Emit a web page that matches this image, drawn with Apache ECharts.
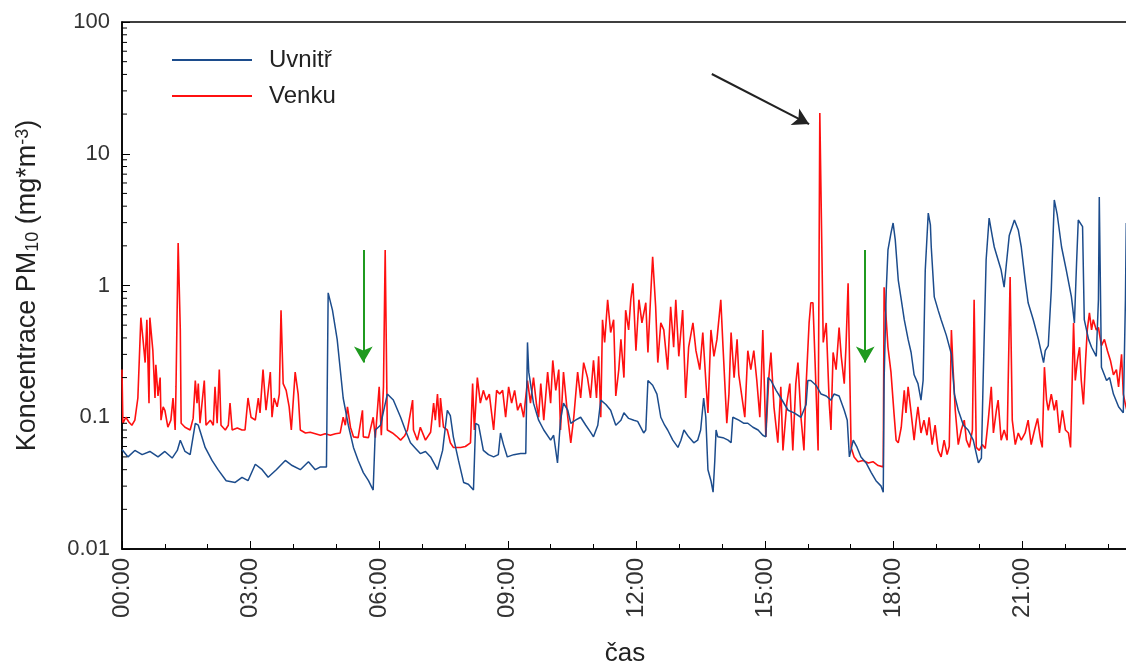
<!DOCTYPE html>
<html><head><meta charset="utf-8">
<script src="https://cdn.jsdelivr.net/npm/echarts@6/dist/echarts.min.js"></script>
<style>html,body{margin:0;padding:0;background:#fff}#c{width:1126px;height:664px}</style>
</head><body><div id="c"></div>
<script>
const seriesNames = ['Uvnitř', 'Venku'];
const xTickLabels = ['00:00','03:00','06:00','09:00','12:00','15:00','18:00','21:00'];
const yTickLabels = ['0.01','0.1','1','10','100'];
const yMinorTicks = [0.02,0.03,0.04,0.05,0.06,0.07,0.08,0.09,0.2,0.3,0.4,0.5,0.6,0.7,0.8,0.9,2,3,4,5,6,7,8,9,20,30,40,50,60,70,80,90];

// Uvnitř (indoor), hours since midnight and concentration
const uHours = [0,0.14,0.30,0.47,0.65,0.84,1.00,1.17,1.29,1.36,1.47,1.59,1.71,1.78,1.94,2.10,2.24,2.43,2.64,2.80,2.94,3.11,3.27,3.41,3.60,3.81,3.97,4.16,4.35,4.51,4.63,4.77,4.81,4.91,5.02,5.16,5.28,5.40,5.51,5.63,5.75,5.86,5.89,5.91,6.03,6.19,6.33,6.50,6.61,6.73,6.85,6.96,7.08,7.20,7.36,7.48,7.59,7.66,7.73,7.85,7.97,8.08,8.20,8.25,8.32,8.43,8.55,8.67,8.78,8.83,8.90,8.99,9.14,9.30,9.42,9.46,9.49,9.60,9.72,9.84,10.00,10.07,10.16,10.23,10.30,10.40,10.47,10.58,10.70,10.82,10.93,11.00,11.10,11.17,11.29,11.40,11.52,11.64,11.71,11.82,11.94,12.03,12.17,12.22,12.27,12.38,12.48,12.57,12.66,12.73,12.85,12.97,13.04,13.11,13.22,13.34,13.43,13.50,13.57,13.62,13.67,13.74,13.79,13.83,13.86,13.90,14.02,14.14,14.21,14.25,14.39,14.51,14.60,14.72,14.84,14.95,15.02,15.07,15.14,15.26,15.37,15.54,15.68,15.84,15.96,16.00,16.07,16.19,16.31,16.43,16.54,16.61,16.73,16.85,16.92,16.97,17.06,17.15,17.24,17.36,17.48,17.59,17.71,17.76,17.78,17.83,17.87,17.94,17.99,18.04,18.11,18.18,18.25,18.34,18.41,18.48,18.57,18.64,18.69,18.74,18.81,18.86,18.88,18.95,19.04,19.11,19.23,19.35,19.42,19.51,19.63,19.74,19.86,19.98,20.05,20.09,20.16,20.23,20.30,20.35,20.44,20.51,20.58,20.63,20.70,20.82,20.91,20.98,21.07,21.14,21.26,21.38,21.50,21.54,21.61,21.68,21.75,21.82,21.92,22.03,22.15,22.22,22.27,22.31,22.41,22.45,22.55,22.62,22.73,22.78,22.80,22.85,22.97,23.04,23.13,23.25,23.36,23.41,23.43];
const uValues = [0.057,0.050,0.056,0.052,0.055,0.050,0.055,0.049,0.056,0.067,0.055,0.052,0.090,0.087,0.059,0.047,0.040,0.033,0.032,0.035,0.033,0.044,0.040,0.035,0.040,0.047,0.043,0.040,0.046,0.040,0.042,0.042,0.88,0.65,0.39,0.14,0.087,0.059,0.047,0.038,0.033,0.028,0.028,0.080,0.087,0.150,0.135,0.100,0.080,0.064,0.058,0.053,0.055,0.050,0.040,0.056,0.113,0.103,0.071,0.047,0.032,0.031,0.028,0.090,0.087,0.056,0.052,0.050,0.052,0.076,0.062,0.050,0.052,0.053,0.053,0.37,0.22,0.128,0.095,0.080,0.067,0.073,0.045,0.095,0.128,0.113,0.090,0.095,0.100,0.087,0.077,0.071,0.087,0.135,0.125,0.113,0.087,0.095,0.108,0.098,0.095,0.093,0.076,0.080,0.190,0.175,0.150,0.100,0.087,0.080,0.067,0.059,0.067,0.080,0.071,0.064,0.067,0.080,0.140,0.100,0.040,0.033,0.027,0.047,0.080,0.071,0.070,0.067,0.064,0.100,0.095,0.090,0.090,0.084,0.080,0.073,0.071,0.200,0.190,0.160,0.140,0.113,0.108,0.100,0.125,0.190,0.190,0.175,0.150,0.145,0.135,0.150,0.145,0.113,0.095,0.050,0.067,0.059,0.050,0.045,0.038,0.033,0.030,0.027,0.190,0.92,1.86,2.5,2.98,2.22,1.10,0.78,0.55,0.39,0.31,0.21,0.18,0.135,0.19,1.31,3.55,2.88,1.96,0.82,0.65,0.55,0.42,0.30,0.15,0.113,0.087,0.080,0.067,0.045,0.049,0.19,1.56,3.25,2.4,1.96,1.56,1.31,0.97,1.43,2.4,3.14,2.64,1.96,1.10,0.74,0.55,0.39,0.26,0.32,0.35,0.92,4.46,3.43,1.96,1.31,0.82,0.52,1.48,3.14,2.8,0.55,0.39,0.34,0.29,0.78,4.7,0.24,0.19,0.20,0.15,0.12,0.108,0.78,2.98];

// Venku (outdoor)
const vHours = [0,0.02,0.09,0.16,0.23,0.30,0.37,0.44,0.49,0.54,0.58,0.63,0.65,0.72,0.77,0.79,0.84,0.89,0.91,0.96,1.00,1.07,1.14,1.19,1.24,1.26,1.31,1.36,1.38,1.47,1.59,1.66,1.71,1.75,1.78,1.82,1.92,1.96,2.06,2.13,2.17,2.22,2.27,2.31,2.41,2.48,2.52,2.57,2.69,2.80,2.87,2.94,3.01,3.11,3.18,3.22,3.29,3.36,3.46,3.50,3.55,3.62,3.67,3.71,3.76,3.83,3.90,3.95,4.04,4.11,4.16,4.28,4.39,4.51,4.63,4.74,4.86,4.98,5.09,5.16,5.21,5.26,5.33,5.40,5.51,5.61,5.63,5.75,5.86,5.91,6.00,6.05,6.10,6.14,6.19,6.31,6.40,6.50,6.59,6.66,6.78,6.80,6.89,6.96,7.08,7.20,7.27,7.31,7.36,7.41,7.43,7.50,7.59,7.66,7.73,7.90,8.01,8.13,8.18,8.22,8.29,8.36,8.43,8.50,8.57,8.67,8.74,8.81,8.88,8.95,9.02,9.09,9.16,9.23,9.30,9.37,9.46,9.53,9.60,9.67,9.72,9.77,9.84,9.93,10.00,10.05,10.12,10.19,10.23,10.30,10.40,10.47,10.54,10.63,10.70,10.77,10.86,10.93,11.00,11.07,11.12,11.17,11.21,11.26,11.33,11.40,11.47,11.52,11.59,11.64,11.71,11.75,11.82,11.87,11.92,11.99,12.06,12.13,12.22,12.27,12.34,12.38,12.45,12.50,12.57,12.64,12.73,12.80,12.87,12.92,12.99,13.08,13.15,13.22,13.32,13.39,13.48,13.55,13.62,13.67,13.74,13.81,13.88,13.97,14.02,14.11,14.16,14.21,14.28,14.35,14.39,14.53,14.60,14.67,14.74,14.81,14.88,14.91,14.95,15.02,15.09,15.14,15.21,15.30,15.37,15.42,15.51,15.58,15.65,15.72,15.77,15.84,15.91,15.96,16.03,16.07,16.12,16.17,16.24,16.28,16.36,16.43,16.50,16.54,16.59,16.66,16.73,16.78,16.85,16.89,16.94,16.99,17.01,17.08,17.17,17.29,17.41,17.52,17.64,17.76,17.78,17.83,17.87,17.94,18.01,18.06,18.11,18.18,18.25,18.29,18.34,18.41,18.48,18.53,18.57,18.64,18.71,18.78,18.83,18.90,18.97,19.04,19.11,19.18,19.25,19.30,19.35,19.39,19.44,19.51,19.58,19.65,19.70,19.77,19.84,19.88,19.93,20.00,20.07,20.14,20.21,20.28,20.33,20.40,20.44,20.51,20.58,20.65,20.72,20.77,20.84,20.91,20.98,21.07,21.14,21.21,21.29,21.36,21.43,21.47,21.52,21.57,21.61,21.68,21.75,21.80,21.87,21.94,22.01,22.08,22.13,22.20,22.24,22.29,22.34,22.38,22.43,22.48,22.52,22.57,22.62,22.66,22.73,22.78,22.85,22.92,22.99,23.06,23.13,23.20,23.25,23.32,23.36,23.41,23.46];
const vValues = [0.23,0.090,0.100,0.092,0.087,0.095,0.14,0.57,0.39,0.26,0.55,0.128,0.57,0.32,0.14,0.25,0.145,0.20,0.095,0.12,0.113,0.084,0.095,0.14,0.080,0.17,2.10,0.46,0.090,0.084,0.080,0.098,0.19,0.128,0.18,0.090,0.19,0.087,0.095,0.087,0.17,0.090,0.23,0.087,0.080,0.087,0.128,0.080,0.083,0.080,0.080,0.14,0.100,0.095,0.14,0.108,0.23,0.113,0.22,0.100,0.14,0.12,0.15,0.65,0.18,0.16,0.12,0.080,0.22,0.15,0.080,0.076,0.077,0.075,0.073,0.075,0.073,0.075,0.076,0.100,0.087,0.12,0.084,0.071,0.070,0.113,0.071,0.070,0.100,0.070,0.17,0.073,0.17,1.86,0.080,0.076,0.072,0.067,0.072,0.080,0.135,0.080,0.067,0.084,0.067,0.077,0.128,0.095,0.15,0.084,0.14,0.084,0.080,0.064,0.059,0.059,0.060,0.064,0.18,0.080,0.20,0.128,0.16,0.135,0.15,0.080,0.16,0.15,0.16,0.100,0.17,0.128,0.16,0.113,0.128,0.100,0.19,0.128,0.20,0.125,0.100,0.18,0.095,0.22,0.128,0.27,0.16,0.23,0.080,0.22,0.100,0.064,0.100,0.22,0.14,0.26,0.20,0.14,0.27,0.14,0.29,0.100,0.55,0.37,0.78,0.44,0.55,0.145,0.23,0.39,0.20,0.65,0.46,0.78,1.04,0.32,0.78,0.52,0.74,0.31,0.92,1.65,0.69,0.26,0.52,0.46,0.23,0.69,0.34,0.78,0.29,0.65,0.14,0.34,0.52,0.32,0.23,0.44,0.19,0.108,0.46,0.29,0.39,0.78,0.35,0.090,0.15,0.44,0.20,0.39,0.21,0.100,0.32,0.23,0.32,0.19,0.100,0.175,0.46,0.071,0.20,0.31,0.12,0.064,0.17,0.056,0.128,0.18,0.056,0.18,0.26,0.100,0.056,0.175,0.52,0.74,0.74,0.26,0.056,20.4,0.37,0.52,0.128,0.080,0.31,0.23,0.48,0.29,0.18,0.34,1.04,0.135,0.059,0.050,0.046,0.047,0.045,0.046,0.043,0.042,0.97,0.55,0.34,0.22,0.108,0.067,0.064,0.084,0.16,0.108,0.17,0.108,0.067,0.095,0.12,0.076,0.095,0.073,0.100,0.062,0.087,0.056,0.050,0.067,0.052,0.060,0.46,0.23,0.113,0.062,0.080,0.095,0.067,0.059,0.080,0.78,0.059,0.056,0.062,0.058,0.095,0.17,0.076,0.113,0.135,0.067,0.080,0.067,1.16,0.095,0.062,0.076,0.067,0.076,0.095,0.062,0.080,0.098,0.067,0.059,0.24,0.135,0.113,0.15,0.113,0.135,0.076,0.113,0.080,0.076,0.059,0.52,0.19,0.27,0.34,0.19,0.125,0.27,0.46,0.62,0.46,0.55,0.46,0.48,0.35,0.39,0.32,0.27,0.21,0.23,0.17,0.30,0.15,0.125,0.108];

// annotation arrows: [hour, value] start and end
const greenArrows = [[[5.63, 1.86], [5.63, 0.26]], [[17.34, 1.86], [17.34, 0.26]]];
const blackArrow = [[13.76, 40.3], [16.03, 16.8]];

const FONT = '"Liberation Sans", Arial, sans-serif';
const chart = echarts.init(document.getElementById('c'), null, {renderer: 'canvas'});

const arrowData = greenArrows.map(a => [
  {coord: a[0], lineStyle: {color: '#1f9a1f', width: 2, type: 'solid'}, itemStyle: {color: '#1f9a1f'}},
  {coord: a[1], lineStyle: {color: '#1f9a1f', width: 2, type: 'solid'}, itemStyle: {color: '#1f9a1f'}}
]);
arrowData.push([
  {coord: blackArrow[0], lineStyle: {color: '#222', width: 2, type: 'solid'}, itemStyle: {color: '#222'}},
  {coord: blackArrow[1], lineStyle: {color: '#222', width: 2, type: 'solid'}, itemStyle: {color: '#222'}}
]);

chart.setOption({
  animation: false,
  backgroundColor: '#fff',
  grid: {left: 122, right: -2, top: 22, bottom: 115, outerBoundsMode: 'none', containLabel: false,
         show: true, borderColor: '#000', borderWidth: 1.5, backgroundColor: 'transparent'},
  legend: {
    data: seriesNames, orient: 'vertical', left: 167, top: 43, itemWidth: 80, itemHeight: 2,
    icon: 'rect', itemGap: 12,
    textStyle: {fontSize: 24, color: '#222', fontFamily: FONT, padding: [0, 0, 0, 12]}
  },
  xAxis: {
    type: 'value', min: 0, max: 23.47, interval: 3,
    name: 'čas', nameLocation: 'middle', nameGap: 92,
    nameTextStyle: {fontSize: 26, color: '#222', fontFamily: FONT},
    axisLine: {show: true, lineStyle: {color: '#000', width: 1.5}},
    axisTick: {show: true, inside: true, length: 8, lineStyle: {color: '#000'}},
    minorTick: {show: true, splitNumber: 3, length: 5, lineStyle: {color: '#000'}},
    splitLine: {show: false},
    axisLabel: {
      rotate: 90, margin: 9, fontSize: 24, color: '#333', fontFamily: FONT,
      showMaxLabel: false,
      formatter: v => (Math.abs(v / 3 - Math.round(v / 3)) < 1e-6 ? (xTickLabels[Math.round(v / 3)] || '') : '')
    }
  },
  yAxis: {
    type: 'log', logBase: 10, min: 0.01, max: 100,
    name: 'Koncentrace PM{sub|10} (mg*m{sup|-3})', nameLocation: 'middle', nameRotate: 90, nameGap: 80,
    nameTextStyle: {
      fontSize: 27, color: '#222', fontFamily: FONT,
      rich: {
        sub: {fontSize: 18, color: '#222', fontFamily: FONT, verticalAlign: 'bottom', padding: [10, 0, 0, 0]},
        sup: {fontSize: 18, color: '#222', fontFamily: FONT, verticalAlign: 'top', padding: [0, 0, 10, 0]}
      }
    },
    axisLine: {show: true, lineStyle: {color: '#000', width: 1.5}},
    axisTick: {show: true, inside: true, length: 8, lineStyle: {color: '#000'}},
    minorTick: {show: false},
    splitLine: {show: false},
    axisLabel: {
      margin: 12, fontSize: 22, color: '#333', fontFamily: FONT,
      formatter: v => yTickLabels[Math.round(Math.log10(v)) + 2] || ''
    }
  },
  series: [
    {
      name: 'Venku', type: 'line', data: vHours.map((h, i) => [h, vValues[i]]),
      showSymbol: false, symbol: 'none', color: '#ff1010',
      lineStyle: {color: '#ff1010', width: 1.6}, z: 2,
      markLine: {
        silent: true, symbol: ['none', 'arrow'], symbolSize: [14, 16],
        label: {show: false}, animation: false, data: arrowData
      }
    },
    {
      name: 'Uvnitř', type: 'line', data: uHours.map((h, i) => [h, uValues[i]]),
      showSymbol: false, symbol: 'none', color: '#1c4c8c',
      lineStyle: {color: '#1c4c8c', width: 1.5}, z: 3
    },
    {
      name: 'minorY', type: 'custom', coordinateSystem: 'cartesian2d', silent: true, z: 5,
      data: yMinorTicks.map(v => [0, v]),
      renderItem: (params, api) => {
        const p = api.coord([0, api.value(1)]);
        return {type: 'line', shape: {x1: p[0], y1: p[1], x2: p[0] + 5, y2: p[1]}, style: {stroke: '#000', lineWidth: 1}};
      }
    }
  ]
});
</script>
</body></html>
